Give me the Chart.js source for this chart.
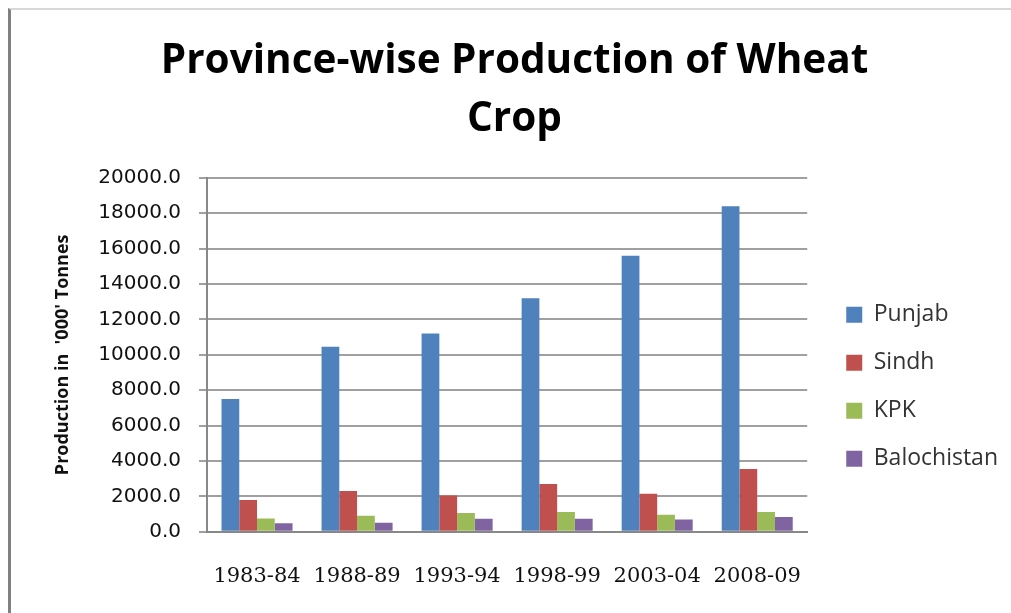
<!DOCTYPE html>
<html>
<head>
<meta charset="utf-8">
<script src="https://cdn.jsdelivr.net/npm/chart.js@4"></script>
<style>
	body { margin: 0; background: #fff; }
	#wrap { position: relative; width: 1011px; height: 613px; }
	#frame { position: absolute; left: 8px; top: 8px; right: 0; bottom: 0; border-left: 3px solid #808080; border-top: 2px solid #d8d8d8; }
	canvas { position: absolute; left: 0; top: 0; }
</style>
</head>
<body>
<div id="wrap">
	<div id="frame"></div>
	<canvas id="wheatChart" width="1011" height="613"></canvas>
</div>
<script>
const years = ["1983-84", "1988-89", "1993-94", "1998-99", "2003-04", "2008-09"];
const punjab = [7500, 10450, 11200, 13200, 15600, 18400];
const sindh = [1800, 2300, 2050, 2700, 2150, 3550];
const kpk = [750, 900, 1060, 1120, 960, 1120];
const balochistan = [490, 510, 740, 740, 700, 830];

document.addEventListener("DOMContentLoaded", () => {
	const ctx = document.getElementById("wheatChart");

	new Chart(ctx, {
		type: "bar",
		data: {
			labels: years,
			datasets: [
				{ label: "Punjab", data: punjab, backgroundColor: "#4F81BD" },
				{ label: "Sindh", data: sindh, backgroundColor: "#C0504D" },
				{ label: "KPK", data: kpk, backgroundColor: "#9BBB59" },
				{ label: "Balochistan", data: balochistan, backgroundColor: "#8064A2" },
			],
		},
		options: {
			responsive: false,
			animation: false,
			layout: { padding: { left: 21, right: 3, top: 20, bottom: 0 } },
			datasets: {
				bar: { categoryPercentage: 0.71, barPercentage: 1.0 },
			},
			plugins: {
				title: {
					display: true,
					text: ["Province-wise Production of Wheat", "Crop"],
					color: "#000",
					font: { family: "Open Sans", size: 40.5, weight: "bold", lineHeight: 1.43 },
					padding: { top: 13, bottom: 29 },
				},
				legend: {
					position: "right",
					// empty title only pushes the entries down
					title: { display: true, text: " ", font: { size: 12 }, padding: 63 },
					labels: {
						boxWidth: 16,
						boxHeight: 16,
						padding: 25,
						color: "#333",
						font: { family: "Open Sans", size: 23 },
					},
				},
				tooltip: { enabled: false },
			},
			scales: {
				x: {
					grid: { display: false },
					border: { display: true, color: "#888", width: 2 },
					ticks: {
						color: "#111",
						padding: 24,
						maxRotation: 0,
						font: { family: "DejaVu Serif", size: 21 },
					},
				},
				y: {
					min: 0,
					max: 20000,
					afterFit: (scale) => { scale.width = 186; },
					grid: { color: "#a0a0a0", lineWidth: 2, tickLength: 8 },
					border: { display: true, color: "#888", width: 2 },
					ticks: {
						stepSize: 2000,
						padding: 18,
						color: "#111",
						font: { family: "DejaVu Sans", size: 20 },
						callback: (value) => value.toFixed(1),
					},
					title: {
						display: true,
						text: "Production in  '000' Tonnes",
						color: "#111",
						font: { family: "Open Sans", size: 18, weight: "bold" },
						padding: { top: 31, bottom: 6 },
					},
				},
				// hidden axis on the right, only keeps a gap before the legend
				gap: {
					type: "linear",
					position: "right",
					display: false,
					afterFit: (scale) => { scale.width = 14; },
				},
			},
		},
	});
});
</script>
</body>
</html>
